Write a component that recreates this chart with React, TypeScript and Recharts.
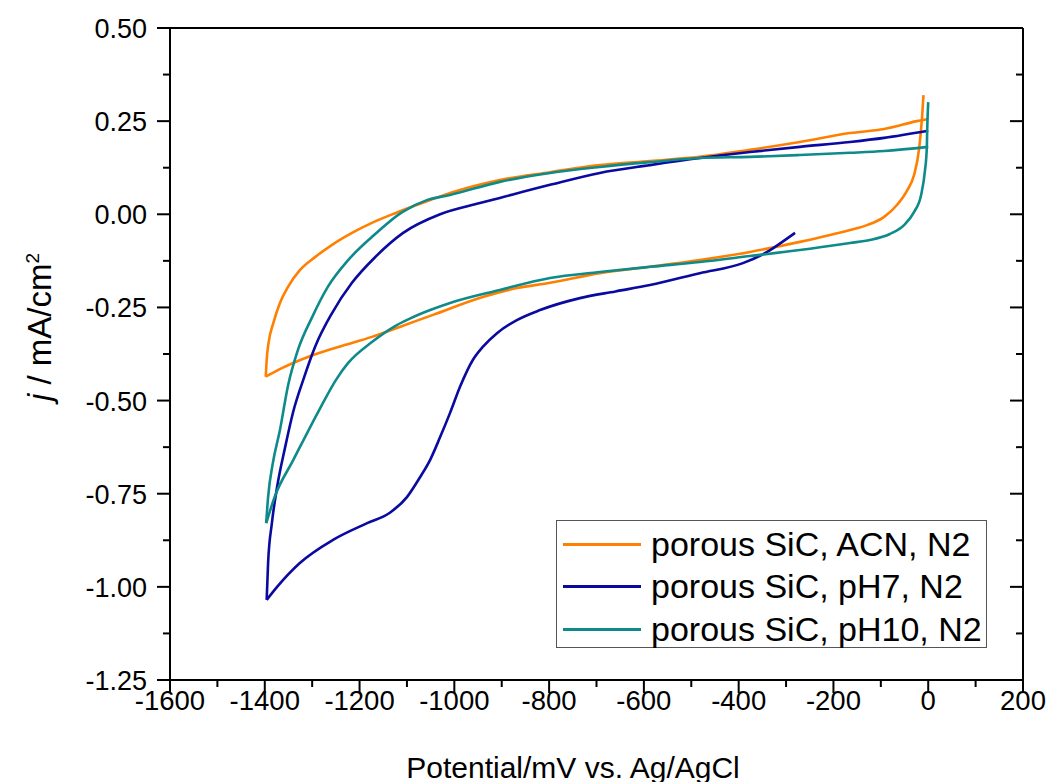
import React from 'react';
import { LineChart, Line, XAxis, YAxis } from 'recharts';

type Pt = { x: number; y: number };

const p = (x: number, y: number): Pt => ({ x, y });

// porous SiC, ACN, N2 (orange): spike + cathodic sweep, then anodic sweep
const acnDown: Pt[] = [
  p(-10, 0.32), p(-13, 0.261), p(-19, 0.178), p(-30, 0.105), p(-45, 0.063), p(-66, 0.025),
  p(-93, -0.007), p(-129, -0.029), p(-165, -0.042), p(-271, -0.074), p(-376, -0.101),
  p(-482, -0.123), p(-587, -0.141), p(-693, -0.158), p(-798, -0.184), p(-868, -0.198),
  p(-940, -0.222), p(-1045, -0.27), p(-1104, -0.297), p(-1174, -0.329), p(-1245, -0.356),
  p(-1309, -0.383), p(-1364, -0.413), p(-1398, -0.436),
];
const acnUp: Pt[] = [
  p(-1398, -0.436), p(-1396, -0.391), p(-1392, -0.345), p(-1382, -0.292), p(-1368, -0.238),
  p(-1351, -0.195), p(-1326, -0.15), p(-1294, -0.115), p(-1258, -0.082), p(-1216, -0.05),
  p(-1174, -0.023), p(-1125, 0.003), p(-1051, 0.038), p(-1009, 0.057), p(-904, 0.092),
  p(-798, 0.113), p(-693, 0.132), p(-587, 0.143), p(-482, 0.154), p(-376, 0.173),
  p(-271, 0.194), p(-165, 0.218), p(-93, 0.229), p(-24, 0.25), p(0, 0.256),
];

// porous SiC, pH7, N2 (blue)
const ph7Down: Pt[] = [
  p(-281, -0.05), p(-310, -0.076), p(-340, -0.101), p(-391, -0.131), p(-482, -0.158),
  p(-587, -0.19), p(-660, -0.207), p(-735, -0.225), p(-819, -0.257), p(-868, -0.284),
  p(-910, -0.319), p(-940, -0.356), p(-961, -0.391), p(-988, -0.463), p(-1009, -0.533),
  p(-1030, -0.598), p(-1051, -0.659), p(-1072, -0.705), p(-1100, -0.759), p(-1136, -0.801),
  p(-1184, -0.829), p(-1256, -0.874), p(-1326, -0.936), p(-1374, -1.0), p(-1396, -1.035),
];
const ph7Up: Pt[] = [
  p(-1396, -1.035), p(-1393, -0.936), p(-1385, -0.829), p(-1374, -0.732), p(-1357, -0.625),
  p(-1340, -0.53), p(-1319, -0.445), p(-1294, -0.356), p(-1258, -0.265), p(-1216, -0.184),
  p(-1167, -0.115), p(-1108, -0.05), p(-1030, 0.0), p(-946, 0.03), p(-904, 0.044),
  p(-798, 0.079), p(-693, 0.111), p(-587, 0.132), p(-482, 0.151), p(-376, 0.167),
  p(-271, 0.181), p(-165, 0.194), p(-93, 0.205), p(0, 0.224),
];

// porous SiC, pH10, N2 (teal)
const ph10Down: Pt[] = [
  p(0, 0.301), p(-2, 0.234), p(-3, 0.178), p(-7, 0.116), p(-15, 0.052), p(-30, 0.006),
  p(-51, -0.029), p(-81, -0.053), p(-123, -0.069), p(-165, -0.077), p(-271, -0.096),
  p(-376, -0.112), p(-482, -0.128), p(-587, -0.141), p(-693, -0.155), p(-798, -0.171),
  p(-904, -0.203), p(-1009, -0.238), p(-1051, -0.257), p(-1094, -0.28), p(-1125, -0.3),
  p(-1174, -0.343), p(-1224, -0.399), p(-1250, -0.445), p(-1283, -0.52), p(-1340, -0.66),
  p(-1378, -0.755), p(-1397, -0.829),
];
const ph10Up: Pt[] = [
  p(-1397, -0.829), p(-1393, -0.759), p(-1383, -0.668), p(-1368, -0.579), p(-1351, -0.46),
  p(-1330, -0.364), p(-1300, -0.276), p(-1267, -0.195), p(-1224, -0.123), p(-1174, -0.061),
  p(-1110, 0.006), p(-1058, 0.038), p(-1009, 0.052), p(-904, 0.087), p(-798, 0.111),
  p(-693, 0.127), p(-587, 0.14), p(-482, 0.151), p(-376, 0.154), p(-271, 0.159),
  p(-165, 0.165), p(-93, 0.17), p(0, 0.181),
];

const seriesNames = ['porous SiC, ACN, N2', 'porous SiC, pH7, N2', 'porous SiC, pH10, N2'];
const seriesColors = ['#FF8000', '#0A0AA0', '#0E8A8A'];
const seriesBranches = [
  [acnDown, acnUp],
  [ph7Down, ph7Up],
  [ph10Down, ph10Up],
];

const xTicks = [
  -1600, -1500, -1400, -1300, -1200, -1100, -1000, -900, -800, -700,
  -600, -500, -400, -300, -200, -100, 0, 100, 200,
];
const yTicks = [
  -1.25, -1.125, -1.0, -0.875, -0.75, -0.625, -0.5, -0.375, -0.25, -0.125,
  0, 0.125, 0.25, 0.375, 0.5,
];

const FONT = 'Arial, "Liberation Sans", sans-serif';
const MAJOR = 13;
const MINOR = 7;

const isMajorX = (v: number) => v % 200 === 0;
const isMajorY = (v: number) => Math.abs(v * 4 - Math.round(v * 4)) < 1e-6;

function BottomTick({ x, y, payload }: any) {
  const v = payload.value;
  const major = isMajorX(v);
  return (
    <g>
      <line x1={x} y1={y} x2={x} y2={y + (major ? MAJOR : MINOR)} stroke="#000" strokeWidth={2} />
      {major && (
        <text x={x} y={y + 30} textAnchor="middle" fontSize={27.5} fontFamily={FONT} fill="#000">
          {v}
        </text>
      )}
    </g>
  );
}

function TopTick({ x, y, payload }: any) {
  const major = isMajorX(payload.value);
  return <line x1={x} y1={y} x2={x} y2={y + (major ? MAJOR : MINOR)} stroke="#000" strokeWidth={2} />;
}

function LeftTick({ x, y, payload }: any) {
  const v = payload.value;
  const major = isMajorY(v);
  return (
    <g>
      <line x1={x} y1={y} x2={x - (major ? MAJOR : MINOR)} y2={y} stroke="#000" strokeWidth={2} />
      {major && (
        <text x={x - 23} y={y + 10} textAnchor="end" fontSize={27} fontFamily={FONT} fill="#000">
          {v.toFixed(2)}
        </text>
      )}
    </g>
  );
}

function RightTick({ x, y, payload }: any) {
  const major = isMajorY(payload.value);
  return <line x1={x} y1={y} x2={x - (major ? MAJOR : MINOR)} y2={y} stroke="#000" strokeWidth={2} />;
}

const axisLine = { stroke: '#000', strokeWidth: 2 };

export default function App() {
  return (
    <div style={{ position: 'absolute', left: 0, top: 0, width: 1051, height: 782, background: '#fff', fontFamily: FONT }}>
      <LineChart width={1051} height={782} margin={{ top: 27, right: 27, bottom: 0, left: 0 }}>
        <XAxis
          xAxisId="bottom"
          dataKey="x"
          type="number"
          domain={[-1600, 200]}
          ticks={xTicks}
          interval={0}
          height={102}
          tickSize={0}
          tickMargin={0}
          tickLine={false}
          axisLine={axisLine}
          tick={<BottomTick />}
          allowDataOverflow
        />
        <XAxis
          xAxisId="top"
          orientation="top"
          type="number"
          domain={[-1600, 200]}
          ticks={xTicks}
          interval={0}
          height={1}
          tickSize={0}
          tickMargin={0}
          tickLine={false}
          axisLine={axisLine}
          tick={<TopTick />}
          allowDataOverflow
        />
        <YAxis
          yAxisId="left"
          type="number"
          domain={[-1.25, 0.5]}
          ticks={yTicks}
          interval={0}
          width={170}
          tickSize={0}
          tickMargin={0}
          tickLine={false}
          axisLine={axisLine}
          tick={<LeftTick />}
          allowDataOverflow
        />
        <YAxis
          yAxisId="right"
          orientation="right"
          type="number"
          domain={[-1.25, 0.5]}
          ticks={yTicks}
          interval={0}
          width={1}
          tickSize={0}
          tickMargin={0}
          tickLine={false}
          axisLine={axisLine}
          tick={<RightTick />}
          allowDataOverflow
        />
        {seriesBranches.map((branches, i) =>
          branches.map((d, j) => (
            <Line
              key={`${seriesNames[i]}-${j}`}
              xAxisId="bottom"
              yAxisId="left"
              data={d}
              dataKey="y"
              name={seriesNames[i]}
              type="monotoneX"
              stroke={seriesColors[i]}
              strokeWidth={2.6}
              strokeLinejoin="round"
              dot={false}
              activeDot={false}
              isAnimationActive={false}
            />
          ))
        )}
      </LineChart>

      <div
        style={{
          position: 'absolute',
          left: 40,
          top: 327,
          transform: 'translate(-50%, -50%) rotate(-90deg)',
          whiteSpace: 'nowrap',
          fontSize: 33,
          lineHeight: '36px',
          color: '#000',
        }}
      >
        <i>j</i> / mA/cm<sup style={{ fontSize: 19, lineHeight: 0 }}>2</sup>
      </div>

      <div
        style={{
          position: 'absolute',
          left: 573,
          top: 752,
          transform: 'translateX(-50%)',
          whiteSpace: 'nowrap',
          fontSize: 30,
          lineHeight: '32px',
          color: '#000',
        }}
      >
        Potential/mV vs. Ag/AgCl
      </div>

      <div
        style={{
          position: 'absolute',
          left: 556,
          top: 520,
          width: 431,
          height: 128,
          boxSizing: 'border-box',
          border: '1.5px solid #555',
          background: '#fff',
          paddingTop: 2,
        }}
      >
        {seriesNames.map((n, i) => (
          <div key={n} style={{ display: 'flex', alignItems: 'center', height: 42.5 }}>
            <div style={{ width: 78, height: 2.6, background: seriesColors[i], marginLeft: 6, marginRight: 10 }} />
            <span style={{ fontSize: 34, whiteSpace: 'nowrap', color: '#000' }}>{n}</span>
          </div>
        ))}
      </div>
    </div>
  );
}
